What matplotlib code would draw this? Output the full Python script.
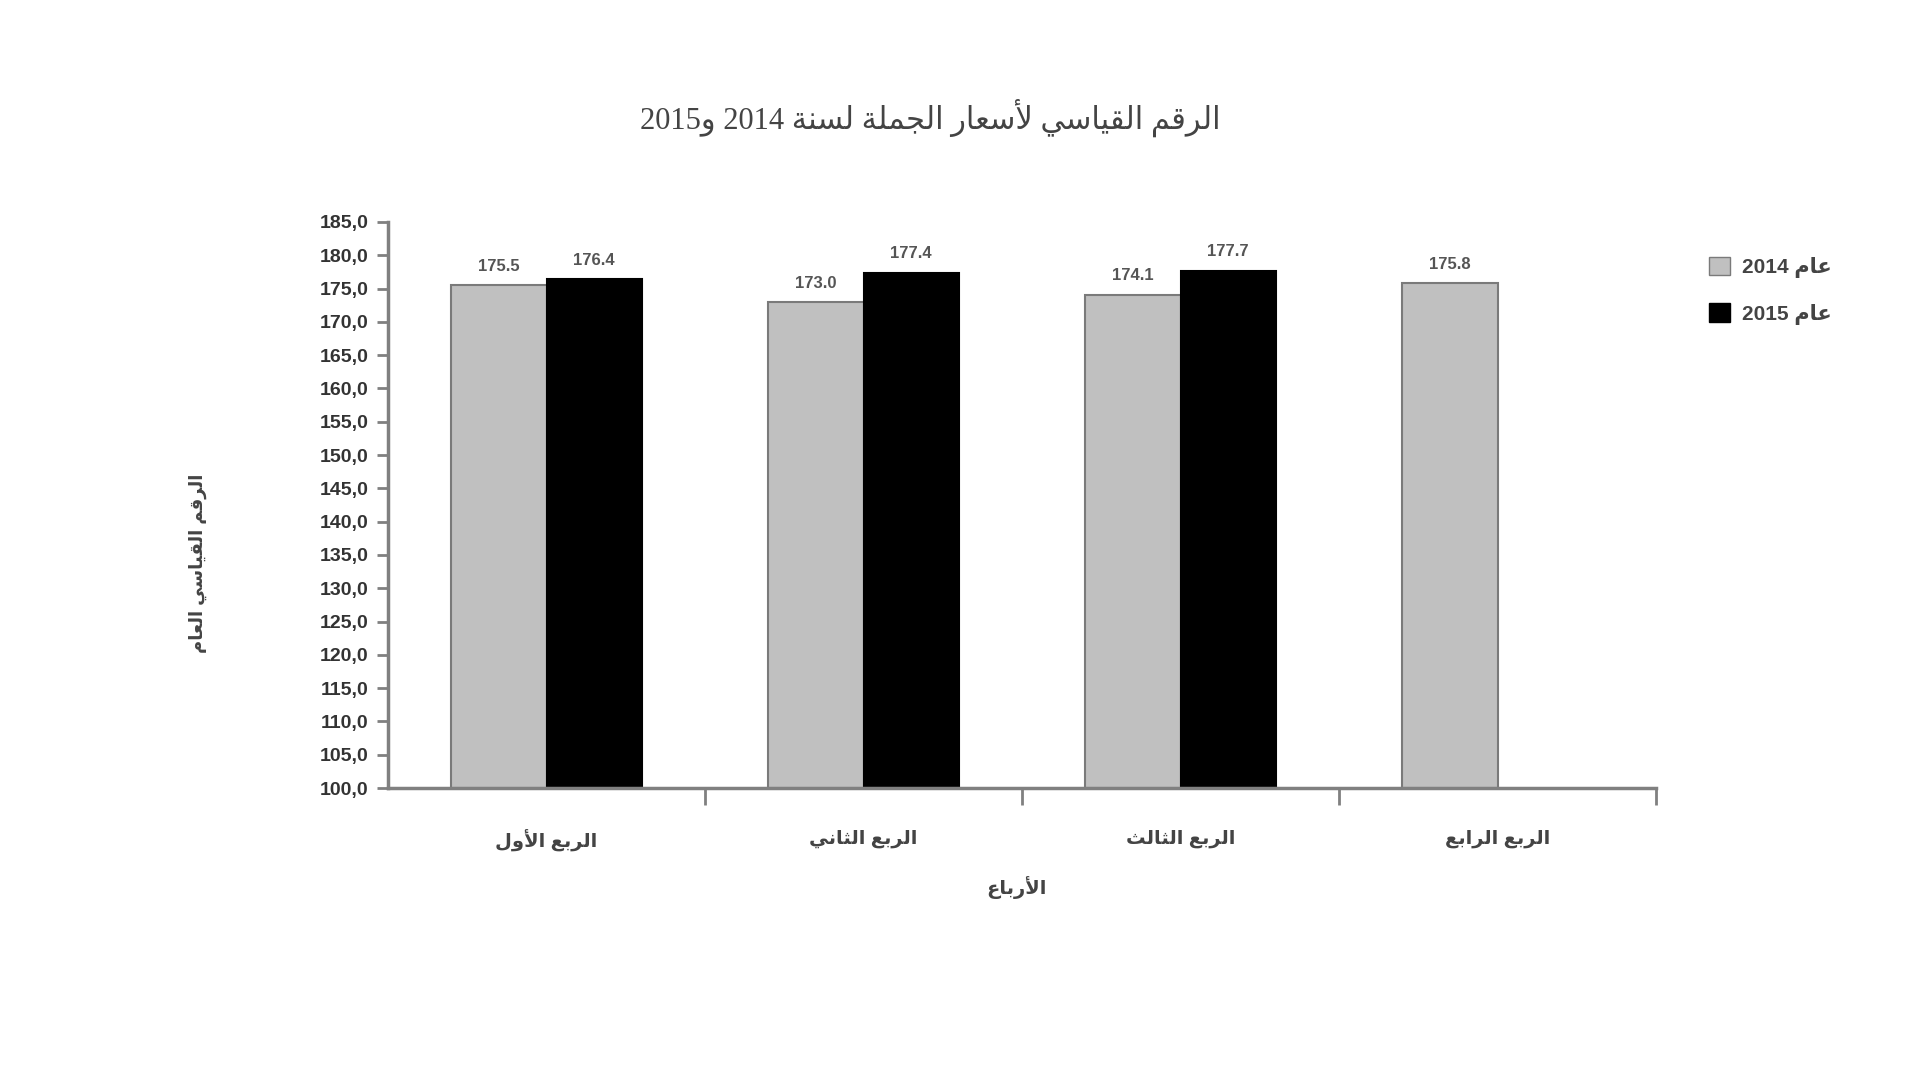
#!/usr/bin/env python3
import matplotlib
matplotlib.use('Agg')
import matplotlib.pyplot as plt
from matplotlib.patches import Patch
import numpy as np
import re

# data
quarters = ['الربع الأول', 'الربع الثاني', 'الربع الثالث', 'الربع الرابع']
values_2014 = [175.5, 173.0, 174.1, 175.8]
values_2015 = [176.4, 177.4, 177.7]
series_names = ['عام 2014', 'عام 2015']
title = 'الرقم القياسي لأسعار الجملة لسنة 2014 و2015'
ylabel = 'الرقم القياسي العام'
xlabel = 'الأرباع'
yticks = np.arange(100, 186, 5)

# --- tiny arabic shaper (matplotlib does no shaping / bidi) ---
FORMS = {
    'ء': (0xFE80,), 'آ': (0xFE81, 0xFE82), 'أ': (0xFE83, 0xFE84),
    'ؤ': (0xFE85, 0xFE86), 'إ': (0xFE87, 0xFE88), 'ئ': (0xFE89, 0xFE8A, 0xFE8B, 0xFE8C),
    'ا': (0xFE8D, 0xFE8E), 'ب': (0xFE8F, 0xFE90, 0xFE91, 0xFE92), 'ة': (0xFE93, 0xFE94),
    'ت': (0xFE95, 0xFE96, 0xFE97, 0xFE98), 'ث': (0xFE99, 0xFE9A, 0xFE9B, 0xFE9C),
    'ج': (0xFE9D, 0xFE9E, 0xFE9F, 0xFEA0), 'ح': (0xFEA1, 0xFEA2, 0xFEA3, 0xFEA4),
    'خ': (0xFEA5, 0xFEA6, 0xFEA7, 0xFEA8), 'د': (0xFEA9, 0xFEAA), 'ذ': (0xFEAB, 0xFEAC),
    'ر': (0xFEAD, 0xFEAE), 'ز': (0xFEAF, 0xFEB0), 'س': (0xFEB1, 0xFEB2, 0xFEB3, 0xFEB4),
    'ش': (0xFEB5, 0xFEB6, 0xFEB7, 0xFEB8), 'ص': (0xFEB9, 0xFEBA, 0xFEBB, 0xFEBC),
    'ض': (0xFEBD, 0xFEBE, 0xFEBF, 0xFEC0), 'ط': (0xFEC1, 0xFEC2, 0xFEC3, 0xFEC4),
    'ظ': (0xFEC5, 0xFEC6, 0xFEC7, 0xFEC8), 'ع': (0xFEC9, 0xFECA, 0xFECB, 0xFECC),
    'غ': (0xFECD, 0xFECE, 0xFECF, 0xFED0), 'ف': (0xFED1, 0xFED2, 0xFED3, 0xFED4),
    'ق': (0xFED5, 0xFED6, 0xFED7, 0xFED8), 'ك': (0xFED9, 0xFEDA, 0xFEDB, 0xFEDC),
    'ل': (0xFEDD, 0xFEDE, 0xFEDF, 0xFEE0), 'م': (0xFEE1, 0xFEE2, 0xFEE3, 0xFEE4),
    'ن': (0xFEE5, 0xFEE6, 0xFEE7, 0xFEE8), 'ه': (0xFEE9, 0xFEEA, 0xFEEB, 0xFEEC),
    'و': (0xFEED, 0xFEEE), 'ى': (0xFEEF, 0xFEF0), 'ي': (0xFEF1, 0xFEF2, 0xFEF3, 0xFEF4),
}
LAMALEF = {'آ': (0xFEF5, 0xFEF6), 'أ': (0xFEF7, 0xFEF8), 'إ': (0xFEF9, 0xFEFA), 'ا': (0xFEFB, 0xFEFC)}


def shape(text):
    # merge lam+alef into ligature tokens
    tokens = []
    i = 0
    while i < len(text):
        if text[i] == 'ل' and i + 1 < len(text) and text[i + 1] in LAMALEF:
            tokens.append(('LA', text[i + 1]))
            i += 2
        else:
            tokens.append(('C', text[i]))
            i += 1

    def joins_next(tok):
        if tok[0] == 'LA':
            return False
        return tok[1] in FORMS and len(FORMS[tok[1]]) == 4

    def is_ar(tok):
        return tok[0] == 'LA' or tok[1] in FORMS

    out = []
    for k, tok in enumerate(tokens):
        if not is_ar(tok):
            out.append(tok[1])
            continue
        prev_j = k > 0 and is_ar(tokens[k - 1]) and joins_next(tokens[k - 1])
        if tok[0] == 'LA':
            out.append(chr(LAMALEF[tok[1]][1 if prev_j else 0]))
            continue
        f = FORMS[tok[1]]
        next_j = len(f) == 4 and k + 1 < len(tokens) and is_ar(tokens[k + 1])
        if len(f) == 1:
            idx = 0
        elif prev_j and next_j:
            idx = 3
        elif next_j:
            idx = 2
        elif prev_j:
            idx = 1
        else:
            idx = 0
        out.append(chr(f[idx]))
    s = ''.join(out)[::-1]
    return re.sub(r'[0-9.,]+', lambda m: m.group(0)[::-1], s)


plt.rcParams['font.family'] = ['Liberation Sans', 'DejaVu Sans']

fig = plt.figure(figsize=(19.2, 10.8), dpi=100)
ax = fig.add_axes([388 / 1920, 1 - 788 / 1080, (1656 - 388) / 1920, (788 - 222) / 1080])

x = np.arange(len(quarters))
w = 0.3
b1 = ax.bar(x - w / 2, values_2014, w, color='#c0c0c0', edgecolor='#7a7a7a', linewidth=1.5)
b2 = ax.bar(x[:len(values_2015)] + w / 2, values_2015, w, color='black', edgecolor='black', linewidth=1.5)

for bars, vals in ((b1, values_2014), (b2, values_2015)):
    for r, v in zip(bars, vals):
        ax.annotate(f'{v:.1f}', (r.get_x() + r.get_width() / 2, v), xytext=(0, 8),
                    textcoords='offset points', ha='center', va='bottom',
                    fontsize=12, fontweight='bold', color='#555555')

ax.set_ylim(100, 185)
ax.set_xlim(-0.5, len(quarters) - 0.5)
ax.set_yticks(yticks)
ax.set_yticklabels([f'{t:.1f}'.replace('.', ',') for t in yticks],
                   fontsize=14, fontweight='bold', color='#333333')
ax.set_xticks(x)
ax.set_xticklabels([shape(q) for q in quarters], fontsize=14, fontweight='bold', color='#444444')
ax.tick_params(axis='x', length=0, pad=30)
ax.set_xticks(np.arange(len(quarters)) + 0.5, minor=True)
ax.tick_params(axis='x', which='minor', length=12, width=2, color='#808080')
ax.tick_params(axis='y', length=8, width=2, color='#808080', pad=6)

for s in ('top', 'right'):
    ax.spines[s].set_visible(False)
for s in ('left', 'bottom'):
    ax.spines[s].set_color('#808080')
    ax.spines[s].set_linewidth(2.5)

fig.text(930 / 1920, 1 - 118 / 1080, shape(title), ha='center', va='center', fontsize=22,
         family=['Liberation Serif', 'DejaVu Sans'], color='#444444')
fig.text(1016 / 1920, 1 - 888 / 1080, shape(xlabel), ha='center', va='center', fontsize=14,
         fontweight='bold', color='#444444')
fig.text(198 / 1920, 1 - 563 / 1080, shape(ylabel), ha='center', va='center', fontsize=13,
         fontweight='bold', color='#444444', rotation=90)

handles = [Patch(facecolor='#c0c0c0', edgecolor='#7a7a7a'), Patch(facecolor='black', edgecolor='black')]
fig.legend(handles, [shape(n) for n in series_names], loc='upper left',
           bbox_to_anchor=(1690 / 1920, 1 - 238 / 1080), frameon=False,
           handlelength=1.0, handleheight=1.0, handletextpad=0.6, labelspacing=1.2,
           prop={'size': 15, 'weight': 'bold'}, labelcolor='#444444')

plt.savefig('out.png', dpi=100)
